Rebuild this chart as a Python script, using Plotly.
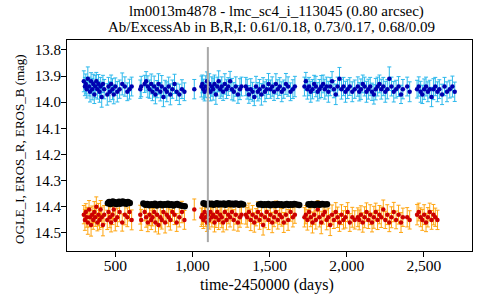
import plotly.graph_objects as go

# EROS observation times (HJD-2450000)
time_r = [296, 303, 309, 315, 322, 330, 336, 343, 350, 357, 364, 370, 377, 384, 391, 398, 405, 412, 420, 428, 448, 456, 465, 473, 482, 490, 500, 513, 528, 545, 562, 578, 592, 606,
          662, 668, 690, 700, 711, 722, 733, 741, 752, 760, 771, 780, 792, 801, 812, 823, 834, 846, 857, 870, 884, 898, 915, 932, 948,
          1012, 1058, 1064, 1071, 1079, 1086, 1094, 1101, 1109, 1117, 1126, 1134, 1143, 1152, 1161, 1170, 1180, 1190, 1199, 1210, 1221, 1232, 1244, 1256, 1268, 1281, 1295, 1308, 1318,
          1346, 1355, 1366, 1378, 1390, 1401, 1412, 1424, 1435, 1447, 1458, 1470, 1481, 1493, 1505, 1517, 1529, 1541, 1553, 1566, 1579, 1592, 1606, 1620, 1636, 1651, 1664,
          1726, 1735, 1745, 1756, 1767, 1778, 1789, 1800, 1812, 1823, 1835, 1847, 1858, 1870, 1881, 1893, 1905, 1917, 1929, 1941, 1953, 1966, 1979, 1992, 2006, 2020, 2036, 2052,
          2072, 2081, 2092, 2104, 2116, 2128, 2140, 2152, 2164, 2176, 2188, 2200, 2212, 2224, 2237, 2250, 2263, 2276, 2290, 2305, 2320, 2336, 2352, 2364,
          2392, 2408, 2456, 2467, 2479, 2490, 2502, 2514, 2526, 2538, 2550, 2562, 2574, 2588]

mag_r = [14.43, 14.45, 14.42, 14.44, 14.46, 14.41, 14.44, 14.47, 14.43, 14.45, 14.42, 14.44, 14.40, 14.46, 14.43, 14.45, 14.41, 14.44, 14.47, 14.43, 14.45, 14.42, 14.44, 14.46, 14.43, 14.41, 14.45, 14.44, 14.42, 14.46, 14.43, 14.44, 14.42, 14.45,
         14.43, 14.45, 14.42, 14.44, 14.46, 14.43, 14.45, 14.44, 14.42, 14.46, 14.43, 14.47, 14.44, 14.45, 14.42, 14.46, 14.43, 14.44, 14.45, 14.42, 14.43, 14.46, 14.44, 14.42, 14.45,
         14.41, 14.44, 14.43, 14.45, 14.42, 14.44, 14.46, 14.43, 14.45, 14.42, 14.44, 14.43, 14.46, 14.44, 14.42, 14.45, 14.43, 14.44, 14.46, 14.42, 14.45, 14.43, 14.44, 14.42, 14.45, 14.43, 14.46, 14.44, 14.43,
         14.43, 14.44, 14.42, 14.45, 14.43, 14.46, 14.44, 14.42, 14.45, 14.43, 14.47, 14.44, 14.42, 14.45, 14.43, 14.46, 14.44, 14.42, 14.45, 14.43, 14.44, 14.46, 14.43, 14.45, 14.42, 14.44, 14.43,
         14.44, 14.43, 14.45, 14.42, 14.44, 14.46, 14.43, 14.45, 14.41, 14.44, 14.46, 14.43, 14.42, 14.45, 14.44, 14.47, 14.43, 14.45, 14.42, 14.44, 14.46, 14.43, 14.45, 14.44, 14.42, 14.46, 14.44, 14.45,
         14.44, 14.45, 14.43, 14.46, 14.44, 14.42, 14.45, 14.43, 14.46, 14.44, 14.42, 14.45, 14.43, 14.44, 14.41, 14.45, 14.43, 14.46, 14.44, 14.42, 14.45, 14.43, 14.46, 14.44,
         14.44, 14.45, 14.43, 14.42, 14.44, 14.45, 14.43, 14.46, 14.44, 14.42, 14.45, 14.43, 14.44, 14.45]

err_r = [0.035, 0.04, 0.032, 0.038, 0.045, 0.034, 0.037, 0.042, 0.033, 0.036, 0.04, 0.035, 0.038, 0.032, 0.043, 0.036, 0.034, 0.039, 0.041, 0.035, 0.037, 0.033, 0.04, 0.036, 0.038, 0.034, 0.042, 0.035, 0.037, 0.033, 0.039, 0.036, 0.034, 0.038,
         0.036, 0.04, 0.034, 0.038, 0.035, 0.042, 0.037, 0.033, 0.039, 0.036, 0.041, 0.034, 0.038, 0.035, 0.037, 0.04, 0.033, 0.036, 0.039, 0.035, 0.038, 0.034, 0.037, 0.041, 0.036,
         0.04, 0.035, 0.037, 0.033, 0.039, 0.036, 0.034, 0.038, 0.035, 0.041, 0.037, 0.033, 0.036, 0.039, 0.034, 0.037, 0.035, 0.04, 0.036, 0.033, 0.038, 0.035, 0.037, 0.034, 0.039, 0.036, 0.033, 0.038, 0.035,
         0.036, 0.038, 0.034, 0.041, 0.035, 0.037, 0.033, 0.039, 0.036, 0.034, 0.038, 0.04, 0.035, 0.037, 0.033, 0.039, 0.036, 0.042, 0.035, 0.037, 0.034, 0.038, 0.036, 0.04, 0.035, 0.037, 0.033,
         0.037, 0.035, 0.039, 0.034, 0.036, 0.04, 0.038, 0.035, 0.033, 0.037, 0.043, 0.036, 0.034, 0.038, 0.035, 0.04, 0.037, 0.033, 0.036, 0.039, 0.034, 0.038, 0.035, 0.041, 0.036, 0.034, 0.038, 0.035,
         0.036, 0.038, 0.034, 0.037, 0.04, 0.035, 0.033, 0.038, 0.036, 0.042, 0.034, 0.037, 0.035, 0.039, 0.036, 0.033, 0.038, 0.035, 0.04, 0.037, 0.034, 0.036, 0.038, 0.035,
         0.037, 0.035, 0.039, 0.034, 0.036, 0.04, 0.038, 0.035, 0.037, 0.034, 0.036, 0.039, 0.035, 0.037]

# EROS B continues a little beyond R
time_b = time_r + [2600, 2618, 2634, 2650, 2668, 2685, 2700]

mag_b = [13.92, 13.94, 13.93, 13.95, 13.91, 13.94, 13.96, 13.92, 13.95, 13.93, 13.97, 13.94, 13.92, 13.95, 13.93, 13.96, 13.94, 13.98, 13.93, 13.95, 13.97, 13.94, 13.96, 13.93, 13.95, 13.97, 13.94, 13.96, 13.95, 13.93, 13.94, 13.96, 13.95, 13.94,
         13.95, 13.94, 13.93, 13.92, 13.94, 13.95, 13.93, 13.96, 13.94, 13.97, 13.95, 13.93, 13.96, 13.94, 13.98, 13.95, 13.96, 13.94, 13.97, 13.95, 13.93, 13.96, 13.97, 13.95, 13.96,
         13.95, 13.94, 13.93, 13.95, 13.96, 13.94, 13.92, 13.95, 13.93, 13.96, 13.94, 13.95, 13.93, 13.97, 13.94, 13.92, 13.95, 13.94, 13.96, 13.93, 13.95, 13.94, 13.92, 13.95, 13.96, 13.94, 13.97, 13.95, 13.94,
         13.94, 13.95, 13.97, 13.95, 13.96, 13.98, 13.94, 13.96, 13.95, 13.97, 13.94, 13.96, 13.95, 13.93, 13.95, 13.94, 13.96, 13.93, 13.95, 13.94, 13.96, 13.95, 13.93, 13.94, 13.96, 13.95, 13.94,
         13.94, 13.92, 13.95, 13.94, 13.96, 13.95, 13.93, 13.94, 13.96, 13.95, 13.94, 13.93, 13.95, 13.94, 13.96, 13.94, 13.92, 13.95, 13.97, 13.94, 13.91, 13.95, 13.94, 13.96, 13.95, 13.94, 13.96, 13.95,
         13.94, 13.96, 13.95, 13.93, 13.94, 13.96, 13.95, 13.94, 13.96, 13.97, 13.95, 13.94, 13.93, 13.95, 13.94, 13.96, 13.95, 13.91, 13.94, 13.96, 13.95, 13.94, 13.97, 13.95,
         13.94, 13.96, 13.95, 13.94, 13.96, 13.97, 13.95, 13.94, 13.96, 13.95, 13.98, 13.95, 13.94, 13.96,
         13.95, 13.97, 13.94, 13.96, 13.95, 13.94, 13.96]

err_b = [0.04, 0.035, 0.038, 0.034, 0.045, 0.036, 0.039, 0.033, 0.041, 0.037, 0.035, 0.043, 0.034, 0.038, 0.036, 0.04, 0.035, 0.039, 0.033, 0.037, 0.041, 0.035, 0.038, 0.034, 0.04, 0.036, 0.033, 0.039, 0.035, 0.042, 0.037, 0.034, 0.038, 0.036,
         0.035, 0.039, 0.033, 0.037, 0.041, 0.035, 0.038, 0.034, 0.04, 0.036, 0.033, 0.039, 0.035, 0.042, 0.037, 0.034, 0.038, 0.036, 0.04, 0.035, 0.037, 0.033, 0.039, 0.036, 0.034,
         0.037, 0.04, 0.034, 0.038, 0.035, 0.041, 0.036, 0.033, 0.039, 0.035, 0.037, 0.042, 0.034, 0.038, 0.036, 0.04, 0.035, 0.037, 0.033, 0.039, 0.036, 0.034, 0.038, 0.041, 0.035, 0.037, 0.034, 0.04, 0.036,
         0.035, 0.038, 0.034, 0.04, 0.036, 0.033, 0.039, 0.035, 0.037, 0.041, 0.034, 0.038, 0.036, 0.04, 0.035, 0.037, 0.033, 0.039, 0.036, 0.034, 0.038, 0.035, 0.04, 0.037, 0.034, 0.036, 0.039,
         0.036, 0.034, 0.038, 0.035, 0.04, 0.037, 0.033, 0.039, 0.035, 0.037, 0.042, 0.034, 0.038, 0.036, 0.04, 0.035, 0.037, 0.033, 0.039, 0.036, 0.043, 0.038, 0.035, 0.04, 0.036, 0.034, 0.038, 0.035,
         0.037, 0.035, 0.039, 0.034, 0.036, 0.04, 0.038, 0.035, 0.033, 0.037, 0.041, 0.036, 0.034, 0.038, 0.035, 0.04, 0.037, 0.045, 0.036, 0.039, 0.034, 0.038, 0.035, 0.037,
         0.036, 0.038, 0.034, 0.037, 0.04, 0.035, 0.039, 0.036, 0.038, 0.034, 0.037, 0.04, 0.035, 0.038,
         0.036, 0.039, 0.035, 0.038, 0.034, 0.04, 0.037]

# OGLE I
time_i = [452, 460, 468, 476, 484, 492, 500, 508, 516, 524, 532, 540, 548, 556, 564, 572, 582, 594,
          682, 695, 708, 720, 733, 745, 757, 769, 781, 793, 805, 817, 829, 841, 853, 865, 877, 889, 901, 913, 930, 950,
          1072, 1082, 1093, 1104, 1115, 1126, 1137, 1148, 1159, 1170, 1181, 1192, 1203, 1214, 1225, 1236, 1247, 1258, 1269, 1280, 1291, 1302, 1315, 1328,
          1432, 1444, 1456, 1468, 1480, 1492, 1504, 1516, 1528, 1540, 1552, 1564, 1576, 1588, 1600, 1612, 1624, 1636, 1648, 1660, 1675, 1692,
          1752, 1762, 1772, 1782, 1792, 1802, 1812, 1822, 1832, 1842, 1856, 1872]

mag_i = [14.386, 14.382, 14.389, 14.384, 14.380, 14.387, 14.383, 14.389, 14.385, 14.381, 14.388, 14.384, 14.380, 14.386, 14.383, 14.388, 14.382, 14.385,
         14.387, 14.392, 14.389, 14.394, 14.390, 14.393, 14.388, 14.395, 14.391, 14.389, 14.394, 14.390, 14.392, 14.388, 14.393, 14.390, 14.395, 14.391, 14.389, 14.393, 14.396, 14.398,
         14.386, 14.389, 14.391, 14.387, 14.390, 14.388, 14.392, 14.389, 14.386, 14.391, 14.388, 14.390, 14.387, 14.392, 14.389, 14.386, 14.390, 14.388, 14.391, 14.387, 14.389, 14.392, 14.388, 14.391,
         14.391, 14.389, 14.393, 14.390, 14.392, 14.389, 14.394, 14.391, 14.390, 14.393, 14.389, 14.392, 14.390, 14.394, 14.391, 14.389, 14.393, 14.390, 14.392, 14.389, 14.391, 14.393,
         14.390, 14.392, 14.389, 14.391, 14.393, 14.390, 14.388, 14.392, 14.390, 14.389, 14.391, 14.390]

vline_x = 1100

title_line1 = "lm0013m4878 - lmc_sc4_i_113045 (0.80 arcsec)"
title_line2 = "Ab/ExcessAb in B,R,I: 0.61/0.18, 0.73/0.17, 0.68/0.09"
x_title = "time-2450000 (days)"
y_title = "OGLE_I, EROS_R, EROS_B (mag)"
x_ticks = [500, 1000, 1500, 2000, 2500]
y_ticks = [13.8, 13.9, 14.0, 14.1, 14.2, 14.3, 14.4, 14.5]

FONT = "Liberation Serif"

fig = go.Figure()

fig.add_trace(go.Scatter(
    x=time_r, y=mag_r, mode="markers",
    marker=dict(color="#cc0000", size=4.5),
    error_y=dict(type="data", array=err_r, color="#ffa510", thickness=1, width=2),
    showlegend=False,
))
fig.add_trace(go.Scatter(
    x=time_b, y=mag_b, mode="markers",
    marker=dict(color="#0000b0", size=4.5),
    error_y=dict(type="data", array=err_b, color="#2cb8ec", thickness=1, width=2),
    showlegend=False,
))
fig.add_trace(go.Scatter(
    x=time_i, y=mag_i, mode="markers",
    marker=dict(color="#000000", size=6.5),
    showlegend=False,
))

fig.add_shape(type="line", xref="x", yref="y",
              x0=vline_x, x1=vline_x, y0=13.789, y1=14.535,
              line=dict(color="#a8a8a8", width=2))

def label(text, x, y, size, angle=0):
    fig.add_annotation(text=text, xref="paper", yref="paper", x=x, y=y,
                       xanchor="center", yanchor="middle", showarrow=False,
                       textangle=angle,
                       font=dict(family=FONT, size=size, color="black"))

label(title_line1, 0.518, 1.137, 15)
label(title_line2, 0.505, 1.062, 15)
label(x_title, 0.495, -0.163, 16)
label(y_title, -0.119, 0.483, 13, angle=-90)

fig.update_layout(
    width=480, height=300,
    margin=dict(l=67, r=8, t=40, b=49),
    paper_bgcolor="white", plot_bgcolor="white",
    font=dict(family=FONT, color="black", size=15),
    showlegend=False,
)
fig.update_xaxes(
    range=[187, 2812], tickvals=x_ticks, tickformat=",d",
    showline=True, linecolor="black", linewidth=1, mirror=True,
    ticks="outside", ticklen=5, tickcolor="black",
    showgrid=False, zeroline=False, automargin=False,
    ticklabelstandoff=-5,
    tickfont=dict(family=FONT, size=15.5),
)
fig.update_yaxes(
    range=[14.569, 13.762], tickvals=y_ticks, tickformat=".1f",
    showline=True, linecolor="black", linewidth=1, mirror=True,
    ticks="outside", ticklen=5, tickcolor="black",
    showgrid=False, zeroline=False, automargin=False,
    ticklabelstandoff=-3,
    tickfont=dict(family=FONT, size=15),
)

fig.write_html("out.html", config={"displayModeBar": False},
               post_script="document.body.style.margin='0';")
